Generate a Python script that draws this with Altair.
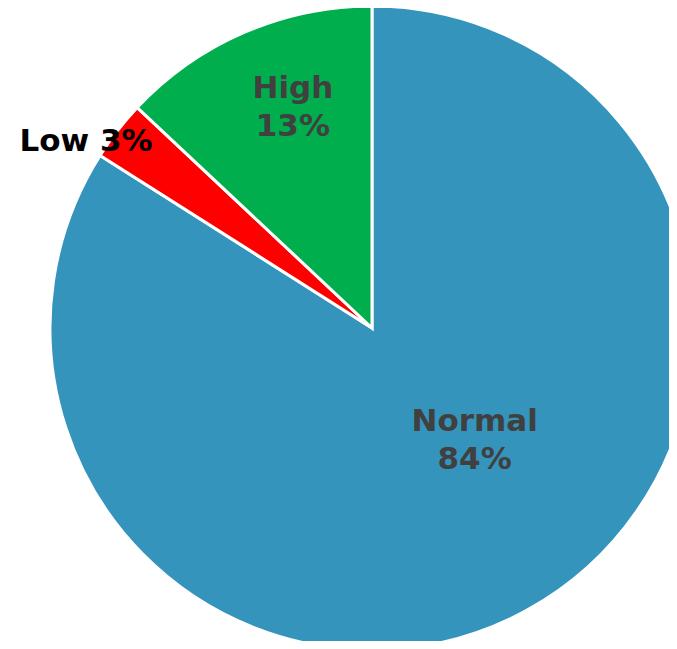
import altair as alt
import pandas as pd
import math

categories = ["Normal", "Low", "High"]
values = [84, 3, 13]
pct_labels = ["84%", "3%", "13%"]
colors = ["#3594BC", "#FF0000", "#00AE4D"]

df = pd.DataFrame({
    "category": categories,
    "value": values,
    "pct": pct_labels,
    "order": list(range(len(categories))),
})

cx, cy, R = 364, 320, 322

pie = alt.Chart(df).mark_arc(radius=R, stroke="white", strokeWidth=3).encode(
    theta=alt.Theta("value:Q", stack=True),
    order=alt.Order("order:Q"),
    x=alt.value(cx),
    y=alt.value(cy),
    color=alt.Color("category:N", scale=alt.Scale(domain=categories, range=colors), legend=None),
)

font = "DejaVu Sans"

def label(cat, radius, offset, color, multiline=True):
    expr = "datum.category + '\\n' + datum.pct" if multiline else "datum.category + ' ' + datum.pct"
    return alt.Chart(df).transform_joinaggregate(
        total="sum(value)"
    ).transform_window(
        cum="sum(value)", sort=[alt.SortField("order")], frame=[None, 0]
    ).transform_calculate(
        mid="(datum.cum - datum.value / 2) / datum.total",
        lab=expr,
    ).transform_filter(
        alt.datum.category == cat
    ).mark_text(
        radius=radius, thetaOffset=offset, font=font, fontWeight="bold",
        fontSize=31, lineBreak="\n", lineHeight=38, color=color,
        align="center", baseline="middle"
    ).encode(
        theta=alt.Theta("mid:Q", scale=alt.Scale(domain=[0, 1], range=[0, 2 * math.pi]), stack=None),
        x=alt.value(cx),
        y=alt.value(cy),
        text="lab:N",
    )

chart = alt.layer(
    pie,
    label("Normal", 139, -0.328, "#404040"),
    label("High", 252, 0.089, "#404040"),
    label("Low", 341, -0.084, "#000000", multiline=False),
).resolve_scale(
    theta="independent"
).properties(
    width=661, height=633, padding=0,
    autosize=alt.AutoSizeParams(type="none"),
).configure_view(stroke=None)

chart.save("out.html", embed_options={"renderer": "svg", "actions": False})
